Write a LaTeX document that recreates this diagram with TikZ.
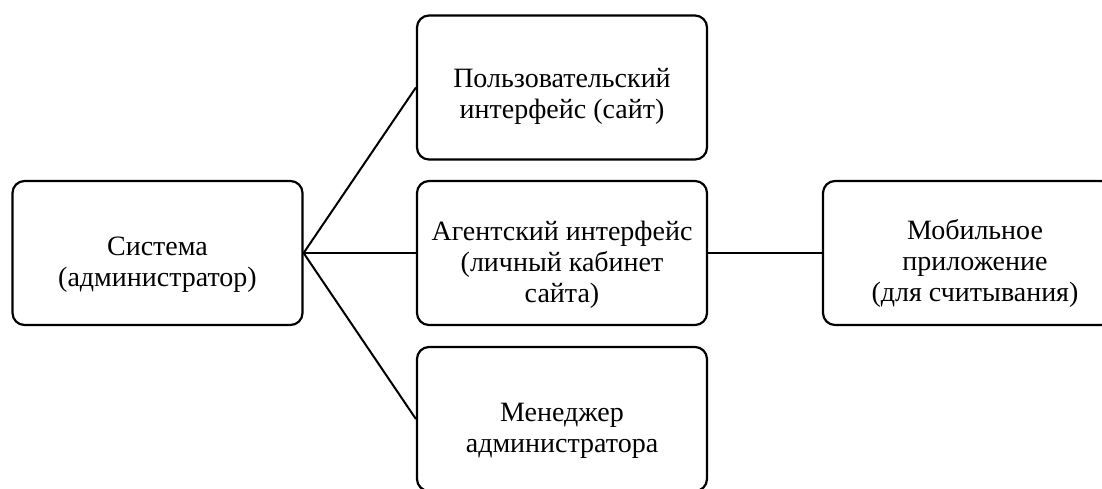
\documentclass[tikz,border=0pt]{standalone}
\usepackage{fontspec}
\setmainfont{Liberation Serif}

\begin{document}
\begin{tikzpicture}[x=0.5pt,y=-0.5pt,
    blk/.style={draw,rounded corners=6pt,line width=1.1pt,minimum width=145pt,minimum height=72pt,inner sep=0pt},
    txt/.style={align=center,inner sep=0pt,font=\fontsize{14}{15.5}\selectfont},
    lnk/.style={line width=1pt}]
    \useasboundingbox (0,0) rectangle (1102,488);
    \clip (0,0) rectangle (1102,488);
    \node[blk, label={[txt,yshift=-6pt]center:{Система\\(администратор)}}] (sys) at (157.5,253) {};
    \node[blk, label={[txt,yshift=-4.5pt]center:{Пользовательский\\интерфейс (сайт)}}] (user) at (562,87.5) {};
    \node[blk, label={[txt,yshift=-6pt]center:{Агентский интерфейс\\(личный кабинет\\сайта)}}] (agent) at (562,253) {};
    \node[blk, label={[txt,yshift=-6pt]center:{Менеджер\\администратора}}] (mgr) at (562,419) {};
    \node[blk, label={[txt,xshift=3.5pt,yshift=-5pt]center:{Мобильное\\приложение\\ (для считывания)}}] (mob) at (968,253) {};
    \draw[lnk] (sys.east)--(user.west);
    \draw[lnk] (sys.east)--(agent.west);
    \draw[lnk] (sys.east)--(mgr.west);
    \draw[lnk] (agent.east)--(mob.west);
\end{tikzpicture}
\end{document}
